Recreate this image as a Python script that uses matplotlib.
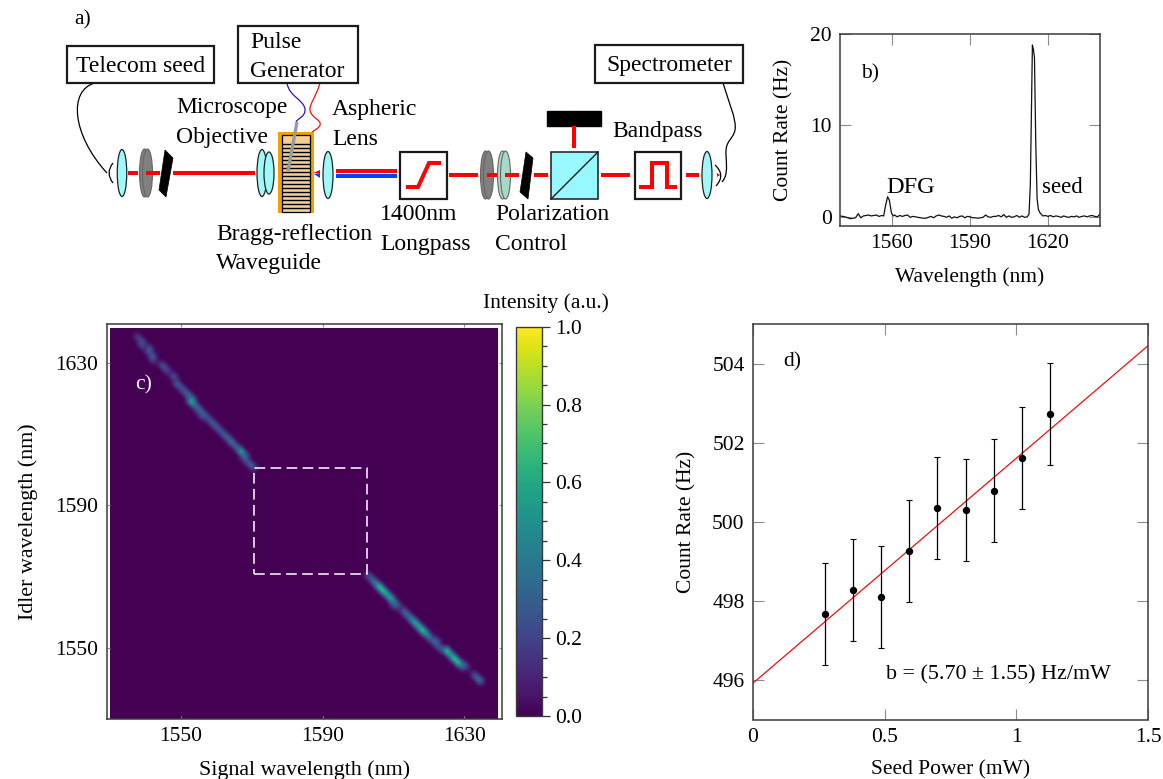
#!/usr/bin/env python3

import numpy as np
import matplotlib
matplotlib.use('Agg')
import matplotlib.pyplot as plt
from matplotlib.patches import Ellipse, Polygon, Rectangle, PathPatch
from matplotlib.path import Path

plt.rcParams['font.family'] = ['Liberation Serif', 'DejaVu Serif']
plt.rcParams['mathtext.fontset'] = 'stix'

W, H = 1163, 779

# panel b: spectrum
spec_wl = [1540, 1541, 1542, 1543, 1544, 1545, 1546, 1547, 1548, 1549, 1550, 1551, 1552, 1553, 1554,
           1555, 1556, 1556.8, 1557.5, 1558.3, 1559, 1559.8, 1560.5, 1561, 1562, 1563, 1564, 1565,
           1566, 1567, 1568, 1569, 1570, 1571, 1572, 1573, 1574, 1575, 1576, 1577, 1578, 1579, 1580,
           1581, 1582, 1583, 1584, 1585, 1586, 1587, 1588, 1589, 1590, 1591, 1592, 1593, 1594, 1595,
           1596, 1597, 1598, 1599, 1600, 1601, 1602, 1603, 1604, 1605, 1606, 1607, 1608, 1609, 1610,
           1611, 1612, 1612.7, 1613.2, 1613.6, 1614, 1614.4, 1614.8, 1615.3, 1615.8, 1616.3, 1617,
           1618, 1619, 1620, 1621, 1622, 1623, 1624, 1625, 1626, 1627, 1628, 1629, 1630, 1631, 1632,
           1633, 1634, 1635, 1636, 1637, 1638, 1639, 1640]
spec_counts = [0.1, 0.05, 0.0, -0.1, -0.2, -0.15, -0.1, 0.35, -0.1, 0.1, 0.15, 0.2, 0.1, 0.15, 0.2,
               0.05, 0.15, 0.1, 1.2, 2.2, 1.8, 0.4, 0.1, 0.2, 0.0, 0.15, 0.05, 0.15, 0.2, -0.05,
               0.05, 0.0, -0.05, -0.1, -0.15, -0.15, -0.05, 0.05, -0.1, 0.1, 0.2, 0.1, 0.05,
               -0.05, 0.1, -0.15, 0.0, -0.1, 0.05, 0.1, -0.1, 0.05, 0.0, -0.1, -0.1, -0.15, -0.1, -0.05,
               0.2, 0.0, -0.05, 0.05, 0.05, 0.15, 0.0, 0.25, -0.05, 0.1, -0.05, 0.0, 0.15, -0.05, 0.1,
               -0.05, 0.0, 0.3, 3.5, 11.0, 18.8, 18.3, 17.4, 8.0, 2.0, 0.8, 0.4,
               0.1, 0.15, 0.05, 0.15, 0.0, 0.1, 0.05, -0.05, 0.1, 0.0, -0.05, 0.05, 0.0, 0.1, -0.05,
               0.05, 0.1, 0.0, 0.1, 0.15, 0.05, 0.0, 0.3]
b_xticks = [1560, 1590, 1620]
b_yticks = [0, 10, 20]

# panel c: bright cells of the joint spectrum, read along the streak
jsi_signal = [1538, 1539, 1539, 1541, 1541, 1542, 1542,
              1545, 1546, 1548, 1549, 1550, 1551, 1552, 1553, 1553, 1554, 1555, 1555, 1556, 1556,
              1557, 1558, 1559, 1560, 1561, 1562, 1563, 1564, 1565, 1566, 1567, 1568, 1568, 1569, 1570,
              1603, 1604, 1605, 1606, 1607, 1608, 1609, 1610, 1610, 1611,
              1613, 1614, 1615, 1616, 1617, 1618, 1619, 1620, 1621, 1622, 1622, 1623,
              1625, 1626, 1627, 1628, 1629, 1630,
              1633, 1634]
jsi_idler = [1637, 1636, 1635, 1634, 1633, 1632, 1631,
             1629, 1628, 1626, 1624, 1623, 1622, 1621, 1620, 1619, 1618, 1617, 1616, 1616, 1615,
             1615, 1614, 1613, 1612, 1611, 1610, 1609, 1608, 1607, 1606, 1605, 1604, 1603, 1602, 1601,
             1570, 1569, 1568, 1567, 1566, 1565, 1564, 1563, 1562, 1562,
             1560, 1559, 1558, 1557, 1556, 1555, 1554, 1553, 1552, 1552, 1551, 1550,
             1549, 1548, 1547, 1546, 1545, 1545,
             1542, 1541]
jsi_value = [0.25, 0.3, 0.3, 0.35, 0.35, 0.35, 0.3,
             0.35, 0.3, 0.35, 0.4, 0.35, 0.4, 0.45, 0.5, 0.8, 0.5, 0.45, 0.2, 0.4, 0.3,
             0.35, 0.35, 0.4, 0.4, 0.35, 0.4, 0.45, 0.5, 0.45, 0.45, 0.75, 0.45, 0.35, 0.4, 0.4,
             0.35, 0.45, 0.6, 1.0, 1.0, 0.8, 0.85, 0.5, 0.35, 0.35,
             0.45, 0.5, 0.6, 0.85, 0.8, 1.0, 0.7, 0.5, 0.4, 0.3, 0.4, 0.35,
             1.0, 0.7, 1.0, 1.0, 0.5, 0.35,
             0.4, 0.5]
c_ticks = [1550, 1590, 1630]
cbar_ticks = [0.0, 0.2, 0.4, 0.6, 0.8, 1.0]

# panel d: seed power scan
seed_power = [0.272, 0.379, 0.485, 0.593, 0.70, 0.807, 0.915, 1.021, 1.128]
count_rate = [497.67, 498.27, 498.10, 499.25, 500.34, 500.30, 500.79, 501.61, 502.73]
count_err = [1.29, 1.29, 1.29, 1.29, 1.29, 1.29, 1.29, 1.29, 1.29]
fit_x = [0, 1.5]
fit_y = [495.92, 504.45]
d_xticks = [0, 0.5, 1, 1.5]
d_xlabels = ['0', '0.5', '1', '1.5']
d_yticks = [496, 498, 500, 502, 504]

# panel a: labels of the setup sketch
setup_labels = ['a)', 'Microscope', 'Objective', 'Aspheric', 'Lens', 'Bragg-reflection', 'Waveguide',
                '1400nm', 'Longpass', 'Polarization', 'Control', 'Bandpass', 'Pulse', 'Generator']
setup_x = [74, 176, 176, 332, 332, 216, 216, 380, 380, 495, 495, 612, 250, 250]
setup_y = [20, 107, 137, 109, 139, 234, 264, 214, 244, 214, 244, 131, 42, 71]

FS = 15.5
TICK = '#8c8c8c'
SPINE = '#3a3a3a'


def add_axes_px(left, right, top, bottom):
    return fig.add_axes([left / W, 1 - bottom / H, (right - left) / W, (bottom - top) / H])


def style_axes(ax, length=8):
    for s in ax.spines.values():
        s.set_color(SPINE)
        s.set_linewidth(1.1)
    ax.tick_params(direction='in', top=True, right=True, length=length, width=0.8, color=TICK,
                   labelsize=FS, pad=6)


fig = plt.figure(figsize=(W / 100, H / 100), dpi=100)

# ---- panel b
ax_b = add_axes_px(840, 1100, 34, 226)
ax_b.plot(spec_wl, spec_counts, color='#111111', lw=0.9)
ax_b.set_xlim(1540, 1640)
ax_b.set_ylim(-1, 20)
ax_b.set_xticks(b_xticks)
ax_b.set_yticks(b_yticks)
style_axes(ax_b)
ax_b.set_xlabel('Wavelength (nm)', fontsize=FS, labelpad=10)
ax_b.set_ylabel('Count Rate (Hz)', fontsize=FS, labelpad=12)
ax_b.text(1548.2, 15.6, 'b)', fontsize=FS, ha='left', va='center')
ax_b.text(1567, 3.2, 'DFG', fontsize=17.5, ha='center', va='center')
ax_b.text(1625.5, 3.2, 'seed', fontsize=16.5, ha='center', va='center')

# ---- panel c
ax_c = add_axes_px(106.5, 501.7, 324, 718.7)
jsi = np.zeros((111, 111))
for s, i, v in zip(jsi_signal, jsi_idler, jsi_value):
    r, c = i - 1530, s - 1530
    jsi[r, c] = max(jsi[r, c], v)
    # the streak is wider than one cell, spread each reading a little over its neighbours
    for dr, dc, w in [(1, 0, 0.35), (-1, 0, 0.35), (0, 1, 0.35), (0, -1, 0.35),
                      (1, -1, 0.3), (-1, 1, 0.3)]:
        jsi[r + dr, c + dc] = max(jsi[r + dr, c + dc], w * v)
im = ax_c.imshow(jsi, origin='lower', extent=(1529.5, 1640.5, 1529.5, 1640.5), cmap='viridis',
                 vmin=0, vmax=1, interpolation='bicubic', aspect='auto')
im.set_clip_path(Rectangle((1530, 1530), 109.3, 110, transform=ax_c.transData))
ax_c.set_xlim(1529, 1640.5)
ax_c.set_ylim(1530, 1641)
ax_c.set_xticks(c_ticks)
ax_c.set_yticks(c_ticks)
style_axes(ax_c, length=2.5)
ax_c.set_xlabel('Signal wavelength (nm)', fontsize=15.8, labelpad=10.5)
ax_c.set_ylabel('Idler wavelength (nm)', fontsize=15.8, labelpad=12)
ax_c.add_patch(Rectangle((1570.6, 1570.6), 32, 30, fill=False, ec='white', lw=1.1, ls=(0, (7, 3.5))))
ax_c.text(1537, 1624, 'c)', color='white', fontsize=FS, ha='left', va='center')

cax = add_axes_px(515.7, 542.3, 326.7, 716)
cb = fig.colorbar(im, cax=cax)
cb.set_ticks(cbar_ticks)
cb.ax.set_yticks(np.arange(0, 1.001, 0.05), minor=True)
cb.ax.tick_params(which='major', length=6, width=0.9, color='#333333', labelsize=FS, pad=3)
cb.ax.tick_params(which='minor', length=3.5, width=0.9, color='#333333')
cb.outline.set_edgecolor(SPINE)
cb.outline.set_linewidth(1.0)

# ---- panel d
ax_d = add_axes_px(753, 1148, 324, 719.5)
ax_d.plot(fit_x, fit_y, color='#f01010', lw=0.9)
ax_d.errorbar(seed_power, count_rate, yerr=count_err, fmt='o', color='black', ms=4.3,
              elinewidth=0.9, capsize=2, capthick=0.8)
ax_d.set_xlim(0, 1.5)
ax_d.set_ylim(495, 505)
ax_d.set_xticks(d_xticks)
ax_d.set_xticklabels(d_xlabels)
ax_d.set_yticks(d_yticks)
style_axes(ax_d)
ax_d.set_xlabel('Seed Power (mW)', fontsize=FS, labelpad=10)
ax_d.set_ylabel('Count Rate (Hz)', fontsize=FS, labelpad=11.5)
ax_d.text(0.115, 504.05, 'd)', fontsize=FS, ha='left', va='center')
ax_d.text(0.932, 496.12, 'b = (5.70 ± 1.55) Hz/mW', fontsize=15.8, ha='center', va='center')

# ---- panel a, sketch drawn in pixel coordinates
sk = fig.add_axes([0, 0, 1, 1], zorder=5)
sk.set_xlim(0, W)
sk.set_ylim(H, 0)
sk.axis('off')

RED = '#ff0000'
BLUE = '#0040ff'
CYAN = '#9ff9fb'


def beam(x0, x1, y, color=RED, lw=2.9):
    sk.plot([x0, x1], [y, y], color=color, lw=lw, solid_capstyle='butt')


def lens(x, y, w=10, h=47):
    sk.add_patch(Ellipse((x, y), w, h, fc=CYAN, ec='#222222', lw=0.9))


def plate(x, y, color):
    sk.add_patch(Ellipse((x - 1.5, y), 10, 48, fc=color, ec='#666666', lw=0.8))
    sk.add_patch(Ellipse((x + 1.5, y), 10, 48, fc=color, ec='#666666', lw=0.8))


def box(x0, x1, y0, y1, fc='white', lw=1.6):
    sk.add_patch(Rectangle((x0, y0), x1 - x0, y1 - y0, fc=fc, ec='#1a1a1a', lw=lw))


def curve(pts, color='black', lw=0.9):
    codes = [Path.MOVETO] + [Path.CURVE4] * (len(pts) - 1)
    sk.add_patch(PathPatch(Path(pts, codes), fc='none', ec=color, lw=lw))


# fibres
curve([(95, 83), (68, 90), (72, 135), (107, 173)])
curve([(287, 83), (289, 97), (305, 100), (305, 110), (305, 117), (298, 118), (296, 122)], color='#3010e0')
curve([(320, 83), (316, 97), (309, 105), (310, 110), (311, 118), (322, 120), (320, 125),
       (319, 128), (315, 130), (312, 132)], color='#f01010')
curve([(723, 83), (728, 100), (737, 120), (735, 130), (733, 140), (725, 140), (726, 155),
       (727, 170), (727, 176), (722, 182)])
sk.add_patch(PathPatch(Path([(113, 163), (105, 173), (113, 183)], [Path.MOVETO, Path.CURVE3, Path.CURVE3]),
                       fc='none', ec='black', lw=0.9))
sk.add_patch(PathPatch(Path([(715, 165), (726, 175), (716, 186)], [Path.MOVETO, Path.CURVE3, Path.CURVE3]),
                       fc='none', ec='black', lw=0.9))

# beams
beam(128, 138, 173)
beam(173, 255, 173)
beam(336, 397, 171)
beam(336, 397, 176, color=BLUE)
beam(449, 478, 175)
beam(534, 548, 175)
beam(601, 630, 175)
beam(686, 699, 175)
sk.plot([574, 574], [126, 148], color=RED, lw=2.9, solid_capstyle='butt')
sk.add_patch(Polygon([(313, 173), (320, 170), (320, 174)], fc=RED, ec='none'))
sk.add_patch(Polygon([(314, 174), (320, 174), (320, 178)], fc=BLUE, ec='none'))
sk.add_patch(Polygon([(717, 173), (720, 175), (717, 177)], fc=RED, ec='none'))

# left optics
lens(122, 173, 9.5, 47)
plate(146, 173, '#808080')
beam(146, 160, 173)
sk.add_patch(Polygon([(165, 150), (173, 158), (166, 197), (159, 190)], fc='black', ec='black', lw=0.5))
lens(262, 173)
lens(269, 173, 10, 42)

# waveguide
sk.add_patch(Rectangle((278, 132), 36, 81, fc='#f0a000', ec='none'))
sk.add_patch(Rectangle((282, 135), 28, 77, fc='#f4cf8f', ec='black', lw=0.9))
sk.hlines(np.arange(144, 212, 4), 282, 310, color='black', lw=1.0)
sk.plot([297, 288], [122, 171], color='#9a9a9a', lw=2.4, solid_capstyle='butt')
lens(328, 175)

# right optics
plate(487, 175, '#808080')
plate(504, 175, '#a8d8c8')
beam(487, 497, 175)
beam(505, 519, 175)
sk.add_patch(Polygon([(526, 152), (533, 158), (528, 199), (520, 192)], fc='black', ec='black', lw=0.5))
box(551, 598, 152, 199, fc='#98f8ff', lw=1.1)
sk.plot([551, 598], [199, 152], color='#1a1a1a', lw=1.0)
sk.add_patch(Rectangle((547, 111), 54, 15, fc='black', ec='black'))
lens(707, 175)

# filter boxes
box(400, 447, 152, 199)
sk.plot([408, 418, 429, 439], [187, 187, 163, 163], color=RED, lw=2.9, solid_joinstyle='miter')
box(635, 681, 152, 199)
sk.plot([641, 652, 652, 667, 667, 675], [187, 187, 163, 163, 187, 187], color=RED, lw=2.9,
        solid_joinstyle='miter')

# instrument boxes
box(67, 214, 46, 83)
box(238, 358, 26, 83)
box(595, 743, 45, 83)
sk.text(140.5, 66, 'Telecom seed', fontsize=17, ha='center', va='center')
sk.text(669, 65, 'Spectrometer', fontsize=17, ha='center', va='center')

for label, x, y in zip(setup_labels, setup_x, setup_y):
    sk.text(x, y, label, fontsize=FS if label == 'a)' else 17, ha='left', va='center')

sk.text(546, 303, 'Intensity (a.u.)', fontsize=FS, ha='center', va='center')

fig.savefig('out.png', dpi=100)
